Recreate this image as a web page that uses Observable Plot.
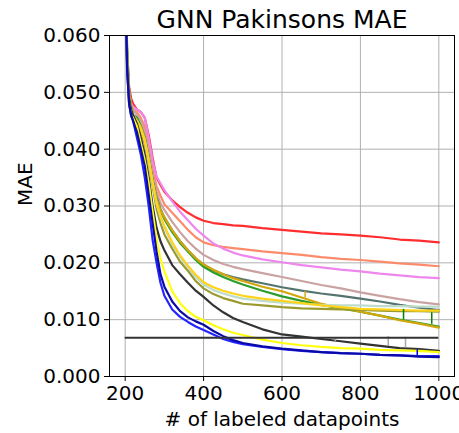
<!DOCTYPE html>
<html><head><meta charset="utf-8">
<script src="https://cdn.jsdelivr.net/npm/d3@7"></script>
<script src="https://cdn.jsdelivr.net/npm/@observablehq/plot@0.6"></script>
<style>body{margin:0;background:#fff;overflow:hidden;}</style>
</head><body><div id="chart"></div>
<script>
// x positions (# of labeled datapoints) at which values were read
const labeled = [200,205,210,215,220,230,240,250,260,270,280,290,300,320,340,360,380,400,425,450,475,500,550,600,650,700,750,800,850,900,950,1000];

const red       = [0.070,0.057,0.051,0.049,0.048,0.047, 0.0465,0.0455,0.0425,0.0385,0.0350,0.0337,0.0325,0.0310,0.0298,0.0288,0.0280,0.0274,0.0270,0.0268,0.0266,0.0265,0.0261,0.0258,0.0255,0.0252,0.0250,0.0248,0.0245,0.0241,0.0239,0.0236];
const salmon    = [0.070,0.056,0.050,0.048,0.047,0.0465, 0.0455,0.0440,0.0405,0.0365,0.0335,0.0318,0.0303,0.0288,0.0273,0.0258,0.0245,0.0236,0.0231,0.0228,0.0226,0.0224,0.0220,0.0217,0.0214,0.0210,0.0207,0.0205,0.0202,0.0199,0.0197,0.0194];
const violet    = [0.070,0.056,0.050,0.048,0.0475,0.047, 0.0465,0.0455,0.0420,0.0380,0.0352,0.0340,0.0328,0.0308,0.0290,0.0275,0.0260,0.0248,0.0234,0.0225,0.0218,0.0213,0.0206,0.0201,0.0196,0.0192,0.0188,0.0185,0.0181,0.0178,0.0175,0.0173];
const rosybrown = [0.070,0.056,0.050,0.048,0.047,0.046, 0.0450,0.0430,0.0395,0.0355,0.0325,0.0305,0.0293,0.0272,0.0254,0.0238,0.0225,0.0214,0.0205,0.0198,0.0193,0.0189,0.0182,0.0175,0.0168,0.0161,0.0155,0.0148,0.0142,0.0136,0.0131,0.0127];
const slate     = [0.070,0.056,0.049,0.047,0.046,0.0455, 0.0440,0.0420,0.0385,0.0345,0.0315,0.0295,0.0280,0.0257,0.0238,0.0222,0.0208,0.0197,0.0187,0.0180,0.0175,0.0171,0.0164,0.0157,0.0151,0.0146,0.0142,0.0137,0.0132,0.0126,0.0121,0.0117];
const green     = [0.070,0.058,0.050,0.0475,0.046,0.0455, 0.0440,0.0420,0.0385,0.0345,0.0312,0.0292,0.0277,0.0254,0.0235,0.0220,0.0205,0.0193,0.0183,0.0175,0.0168,0.0162,0.0151,0.0141,0.0133,0.0126,0.0120,0.0114,0.0107,0.0100,0.0094,0.0088];
const goldenrod = [0.070,0.056,0.050,0.0475,0.046,0.045, 0.0440,0.0420,0.0385,0.0345,0.0312,0.0293,0.0280,0.0257,0.0238,0.0222,0.0208,0.0197,0.0188,0.0180,0.0173,0.0168,0.0158,0.0150,0.0139,0.0128,0.0121,0.0114,0.0107,0.0099,0.0093,0.0086];
const olive     = [0.070,0.055,0.049,0.047,0.046,0.045, 0.0430,0.0410,0.0375,0.0335,0.0295,0.0270,0.0250,0.0225,0.0202,0.0186,0.0168,0.0155,0.0145,0.0138,0.0133,0.0128,0.0125,0.0122,0.0120,0.0119,0.0118,0.0117,0.0116,0.0115,0.0115,0.0114];
const paleCyan  = [0.070,0.056,0.049,0.047,0.046,0.045, 0.0435,0.0415,0.0380,0.0340,0.0305,0.0280,0.0262,0.0233,0.0210,0.0192,0.0175,0.0162,0.0152,0.0146,0.0141,0.0137,0.0133,0.0130,0.0128,0.0126,0.0125,0.0125,0.0124,0.0124,0.0123,0.0123];
const gold      = [0.070,0.055,0.049,0.047,0.046,0.045, 0.0435,0.0415,0.0380,0.0340,0.0305,0.0282,0.0265,0.0236,0.0213,0.0195,0.0179,0.0166,0.0157,0.0151,0.0146,0.0142,0.0137,0.0133,0.0129,0.0125,0.0122,0.0119,0.0118,0.0117,0.0116,0.0116];
const darkgray  = [0.070,0.055,0.049,0.047,0.046,0.0445, 0.0420,0.0390,0.0350,0.0300,0.0262,0.0238,0.0222,0.0196,0.0180,0.0165,0.0151,0.0140,0.0125,0.0113,0.0103,0.0096,0.0083,0.0074,0.0070,0.0066,0.0062,0.0058,0.0054,0.0050,0.0048,0.0045];
const yellow    = [0.070,0.054,0.048,0.046,0.0455,0.044, 0.0410,0.0380,0.0340,0.0290,0.0242,0.0207,0.0185,0.0150,0.0129,0.0115,0.0105,0.0099,0.0090,0.0083,0.0077,0.0073,0.0065,0.0059,0.0055,0.0052,0.0050,0.0049,0.0047,0.0046,0.0045,0.0043];
const blue      = [0.070,0.054,0.048,0.046,0.045,0.042, 0.0390,0.0350,0.0300,0.0240,0.0200,0.0165,0.0142,0.0118,0.0105,0.0096,0.0088,0.0082,0.0074,0.0066,0.0061,0.0057,0.0052,0.0048,0.0045,0.0043,0.0041,0.0040,0.0038,0.0037,0.0036,0.0036];
const navy      = [0.070,0.054,0.048,0.046,0.045,0.043, 0.0400,0.0370,0.0320,0.0270,0.0220,0.0180,0.0158,0.0132,0.0115,0.0104,0.0097,0.0091,0.0080,0.0071,0.0064,0.0059,0.0053,0.0049,0.0046,0.0043,0.0041,0.0040,0.0038,0.0037,0.0035,0.0034];

const seriesNames  = ["red","salmon","violet","rosybrown","slate","green","goldenrod","olive","paleCyan","gold","darkgray","yellow","blue","navy"];
const seriesValues = [red,salmon,violet,rosybrown,slate,green,goldenrod,olive,paleCyan,gold,darkgray,yellow,blue,navy];
const seriesColors = ["#ff2d2d","#fb8b6b","#ee86ee","#cba2a2","#55746f","#2a9d2a","#d2a70c","#9a9a30","#bddccd","#ffd31c","#333333","#ffff10","#2424ff","#0a0aa8"];

// occasional single-step spikes visible in the noisy curves
const spikeX    = [736, 871, 915, 910, 982, 659, 945];
const spikeFrom = [0.0061, 0.0053, 0.0050, 0.0100, 0.0092, 0.0138, 0.0037];
const spikeTo   = [0.0068, 0.0070, 0.0069, 0.0118, 0.0112, 0.0150, 0.0047];
const spikeSeries = ["darkgray","darkgray","darkgray","green","green","goldenrod","blue"];

// horizontal reference line
const baselineValue = [0.0068];
const baselineRange = [200, 1000];

const xTicks = [200, 400, 600, 800, 1000];
const yTicks = [0, 0.01, 0.02, 0.03, 0.04, 0.05, 0.06];
const title = "GNN Pakinsons MAE";
const xLabel = "# of labeled datapoints";
const yLabel = "MAE";

const rows = [];
seriesValues.forEach((vals, s) => vals.forEach((v, i) => rows.push({x: labeled[i], y: v, name: seriesNames[s]})));
const spikes = spikeX.map((x, i) => ({x, y1: spikeFrom[i], y2: spikeTo[i], name: spikeSeries[i]}));
const baseline = baselineValue.map(v => ({y: v, x1: baselineRange[0], x2: baselineRange[1]}));

const chart = Plot.plot({
  width: 459, height: 433,
  marginLeft: 109, marginRight: 5, marginTop: 35, marginBottom: 57,
  style: {fontFamily: "DejaVu Sans", fontSize: "20px", color: "black", background: "white"},
  x: {domain: [160, 1040]},
  y: {domain: [0, 0.06]},
  color: {domain: seriesNames, range: seriesColors},
  marks: [
    Plot.gridX(xTicks, {stroke: "#b0b0b0", strokeOpacity: 1, strokeWidth: 1}),
    Plot.gridY(yTicks, {stroke: "#b0b0b0", strokeOpacity: 1, strokeWidth: 1}),
    Plot.lineY(rows, {x: "x", y: "y", z: "name", stroke: "name", strokeWidth: 2.2, clip: true}),
    Plot.ruleX(spikes, {x: "x", y1: "y1", y2: "y2", stroke: "name", strokeWidth: 1.5}),
    Plot.ruleY(baseline, {y: "y", x1: "x1", x2: "x2", stroke: "#333333", strokeWidth: 2}),
    Plot.frame({stroke: "black", strokeWidth: 1}),
    Plot.axisX(xTicks, {tickSize: 5, tickPadding: 4, fontSize: 20, tickFormat: d3.format("d"), label: null}),
    Plot.axisY(yTicks, {tickSize: 5, tickPadding: 4, fontSize: 20, tickFormat: d3.format(".3f"), label: null}),
    Plot.text([title], {frameAnchor: "top", dy: -16, fontSize: 25, lineAnchor: "middle"}),
    Plot.text([xLabel], {frameAnchor: "bottom", dy: 43, fontSize: 20, lineAnchor: "middle"}),
    Plot.text([yLabel], {frameAnchor: "left", dx: -84, rotate: -90, fontSize: 20, lineAnchor: "middle"})
  ]
});
document.getElementById("chart").appendChild(chart);
</script>
</body></html>
